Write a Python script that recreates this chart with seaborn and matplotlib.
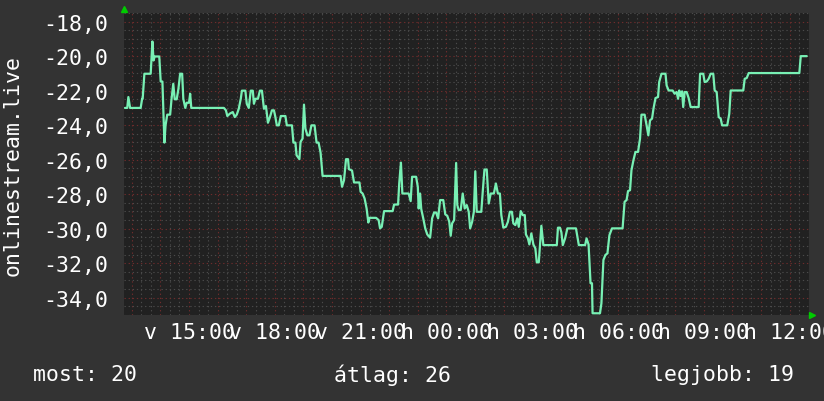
import matplotlib
matplotlib.use("Agg")
import matplotlib.pyplot as plt
import matplotlib.ticker as mticker
import pandas as pd
import seaborn as sns

# Adatok: órák (az első nap éjfélétől), helyezés (negatív = rang)
hours = [
    12.76, 12.84, 12.88, 12.94, 13.31, 13.36, 13.38, 13.44, 13.66, 13.72,
    13.76, 13.80, 13.96, 14.01, 14.07, 14.14, 14.18, 14.24, 14.34, 14.39,
    14.45, 14.50, 14.57, 14.63, 14.69, 14.76, 14.80, 14.87, 14.92, 15.00,
    15.04, 15.08, 16.22, 16.29, 16.34, 16.43, 16.53, 16.60, 16.67, 16.74,
    16.81, 16.85, 16.97, 17.02, 17.09, 17.16, 17.23, 17.27, 17.32, 17.41,
    17.48, 17.55, 17.62, 17.69, 17.76, 17.83, 17.90, 17.97, 18.02, 18.07,
    18.14, 18.21, 18.37, 18.42, 18.60, 18.65, 18.72, 18.76, 18.86, 18.90,
    18.97, 19.02, 19.07, 19.14, 19.21, 19.28, 19.39, 19.46, 19.53, 19.60,
    19.67, 20.30, 20.35, 20.42, 20.49, 20.56, 20.59, 20.70, 20.77, 20.96,
    21.00, 21.07, 21.14, 21.21, 21.27, 21.31, 21.54, 21.63, 21.68, 21.74,
    21.82, 22.12, 22.17, 22.31, 22.35, 22.41, 22.46, 22.68, 22.75, 22.80,
    22.94, 23.00, 23.03, 23.08, 23.12, 23.19, 23.26, 23.33, 23.43, 23.50,
    23.57, 23.64, 23.71, 23.78, 23.89, 23.96, 24.03, 24.10, 24.15, 24.20,
    24.27, 24.34, 24.38, 24.43, 24.50, 24.57, 24.64, 24.71, 24.78, 24.83,
    24.90, 24.96, 25.01, 25.06, 25.22, 25.27, 25.33, 25.41, 25.48, 25.55,
    25.66, 25.73, 25.80, 25.87, 25.92, 25.99, 26.08, 26.15, 26.22, 26.29,
    26.34, 26.41, 26.48, 26.53, 26.60, 26.67, 26.74, 26.78, 26.85, 26.90,
    26.97, 27.04, 27.11, 27.16, 27.23, 27.27, 27.32, 27.39, 27.86, 27.90,
    27.97, 28.02, 28.07, 28.15, 28.23, 28.53, 28.63, 28.85, 28.90, 28.97,
    29.04, 29.09, 29.11, 29.37, 29.42, 29.49, 29.56, 29.63, 29.70, 29.79,
    30.16, 30.23, 30.30, 30.35, 30.42, 30.47, 30.54, 30.61, 30.70, 30.77,
    30.82, 30.93, 31.00, 31.06, 31.12, 31.19, 31.24, 31.31, 31.40, 31.44,
    31.52, 31.66, 31.70, 31.77, 31.91, 31.98, 32.05, 32.10, 32.14, 32.19,
    32.24, 32.28, 32.33, 32.40, 32.47, 32.54, 32.82, 32.87, 32.98, 33.03,
    33.10, 33.17, 33.24, 33.33, 33.38, 33.45, 33.52, 33.59, 33.64, 33.82,
    33.89, 33.94, 34.38, 34.43, 34.50, 34.57, 36.34, 36.39, 36.60,
]
rank = [
    -23.0, -23.0, -22.37, -23.0, -23.0, -22.47, -22.47, -21.02, -21.02, -19.15,
    -20.25, -20.02, -20.02, -21.47, -21.47, -25.01, -24.01, -23.39, -23.39, -22.47,
    -21.6, -22.5, -22.5, -21.89, -21.02, -21.02, -22.47, -23.0, -22.7, -22.7,
    -22.18, -23.0, -23.0, -23.14, -23.47, -23.33, -23.24, -23.53, -23.39, -23.05,
    -22.47, -22.0, -22.0, -22.76, -23.0, -22.0, -22.0, -22.76, -22.47, -22.47,
    -22.0, -22.0, -23.05, -22.89, -23.86, -23.53, -23.14, -23.14, -23.53, -24.01,
    -24.01, -23.47, -23.47, -24.01, -24.01, -25.01, -25.01, -25.74, -25.97, -24.97,
    -24.78, -22.81, -24.2, -24.59, -24.59, -24.01, -24.01, -25.01, -25.01, -25.59,
    -26.94, -26.94, -27.57, -27.19, -25.97, -25.97, -26.55, -26.63, -27.32, -27.32,
    -27.86, -27.96, -28.25, -28.83, -29.64, -29.37, -29.37, -29.5, -29.98, -29.89,
    -28.98, -28.98, -28.6, -28.6, -27.38, -26.17, -27.96, -27.96, -28.4, -26.99,
    -26.99, -27.57, -28.83, -27.96, -28.86, -29.4, -29.98, -30.33, -30.52, -29.4,
    -29.06, -29.06, -29.4, -28.34, -28.34, -29.17, -29.25, -29.6, -30.41, -29.69,
    -29.5, -26.19, -28.63, -28.92, -28.92, -27.96, -28.83, -28.63, -29.02, -29.98,
    -29.6, -29.02, -26.67, -29.02, -29.02, -27.86, -26.57, -26.57, -28.54, -27.96,
    -27.96, -27.38, -27.96, -27.96, -29.21, -29.94, -29.89, -29.6, -29.02, -29.02,
    -29.69, -29.79, -29.4, -29.89, -28.98, -29.21, -29.21, -30.33, -30.56, -30.91,
    -30.27, -30.91, -31.14, -31.95, -31.95, -30.98, -29.83, -30.95, -30.95, -29.94,
    -29.94, -30.21, -30.95, -30.56, -29.98, -29.98, -30.95, -30.95, -30.56, -30.91,
    -33.16, -33.16, -34.9, -34.9, -34.32, -31.81, -31.52, -31.43, -30.37, -29.98,
    -29.98, -28.44, -28.34, -27.82, -27.77, -26.61, -26.03, -25.55, -25.55, -24.78,
    -23.39, -23.39, -24.01, -24.59, -23.72, -23.62, -23.05, -22.43, -22.37, -21.5,
    -21.02, -21.02, -21.7, -21.99, -21.99, -22.18, -22.08, -22.47, -21.99, -22.31,
    -22.04, -22.95, -22.08, -22.08, -22.43, -22.95, -22.95, -21.02, -21.02, -21.5,
    -21.47, -21.31, -21.02, -21.02, -21.99, -22.08, -23.53, -23.62, -24.01, -24.01,
    -23.34, -21.99, -21.99, -21.31, -21.27, -20.98, -20.98, -20.0, -20.0,
]

label_hours = [15, 18, 21, 24, 27, 30, 33, 36]
tick_labels = ["v 15:00", "v 18:00", "v 21:00", "h 00:00",
               "h 03:00", "h 06:00", "h 09:00", "h 12:00"]
summary = ["most: 20", "átlag: 26", "legjobb: 19"]
y_title = "onlinestream.live"

BG = "#333333"
PLOT_BG = "#212121"
LINE = "#78F0B4"
MAJOR = "#6e2c2c"
MINOR = "#4a4a4a"

sns.set_theme(style="dark")
plt.rcParams["font.family"] = ["DejaVu Sans Mono", "DejaVu Sans"]
plt.rcParams["font.size"] = 15.5

df = pd.DataFrame({"ora": hours, "helyezes": rank})

fig = plt.figure(figsize=(8.24, 4.02), dpi=100, facecolor=BG)
ax = fig.add_axes([124 / 824, 1 - 316 / 402, 685 / 824, 302 / 402])
ax.set_facecolor(PLOT_BG)

sns.lineplot(data=df, x="ora", y="helyezes", ax=ax, color=LINE,
             linewidth=1.6, estimator=None, sort=False, zorder=5)

ax.set_xlim(12.727, 36.678)
ax.set_ylim(-35, -17.5)

# rács: óránként / 20 percenként, 2 egységenként / 0.5 egységenként
ax.xaxis.set_major_locator(mticker.MultipleLocator(1))
ax.xaxis.set_minor_locator(mticker.MultipleLocator(1 / 3))
ax.yaxis.set_major_locator(mticker.MultipleLocator(2))
ax.yaxis.set_minor_locator(mticker.MultipleLocator(0.5))

cimkek = dict(zip(label_hours, tick_labels))
ax.xaxis.set_major_formatter(mticker.FuncFormatter(
    lambda v, p: cimkek.get(int(round(v)), "")))
ax.yaxis.set_major_formatter(mticker.FuncFormatter(
    lambda v, p: f"{v:.1f}".replace(".", ",")))

ax.grid(which="minor", color=MINOR, linestyle=(0, (1.2, 2.5)), linewidth=0.8)
ax.grid(which="major", color=MAJOR, linestyle=(0, (1.2, 2.5)), linewidth=0.8)
ax.set_axisbelow(True)

ax.tick_params(axis="both", which="major", colors="#8a3535", length=2,
               width=0.8, labelcolor="white", labelsize=15.5)
ax.tick_params(axis="both", which="minor", colors=MINOR, length=2, width=0.8)
ax.tick_params(axis="x", which="major", pad=3)
ax.tick_params(axis="y", which="major", pad=9)

for s in ax.spines.values():
    s.set_visible(False)

ax.set_xlabel("")
ax.set_ylabel("")

# zöld nyilak a tengelyek végén
ax.plot([0], [1.012], marker="^", color="#00cc00", markersize=5,
        transform=ax.transAxes, clip_on=False)
ax.plot([1.005], [0], marker=">", color="#00cc00", markersize=5,
        transform=ax.transAxes, clip_on=False)

fig.text(13 / 824, 1 - 165 / 402, y_title, rotation=90, color="white",
         ha="center", va="center", fontsize=15.5)

for txt, xpos in zip(summary, [33, 334, 651]):
    fig.text(xpos / 824, 1 - 375 / 402, txt, color="white",
             ha="left", va="center", fontsize=15.5)

fig.savefig("out.png", dpi=100, facecolor=BG)
